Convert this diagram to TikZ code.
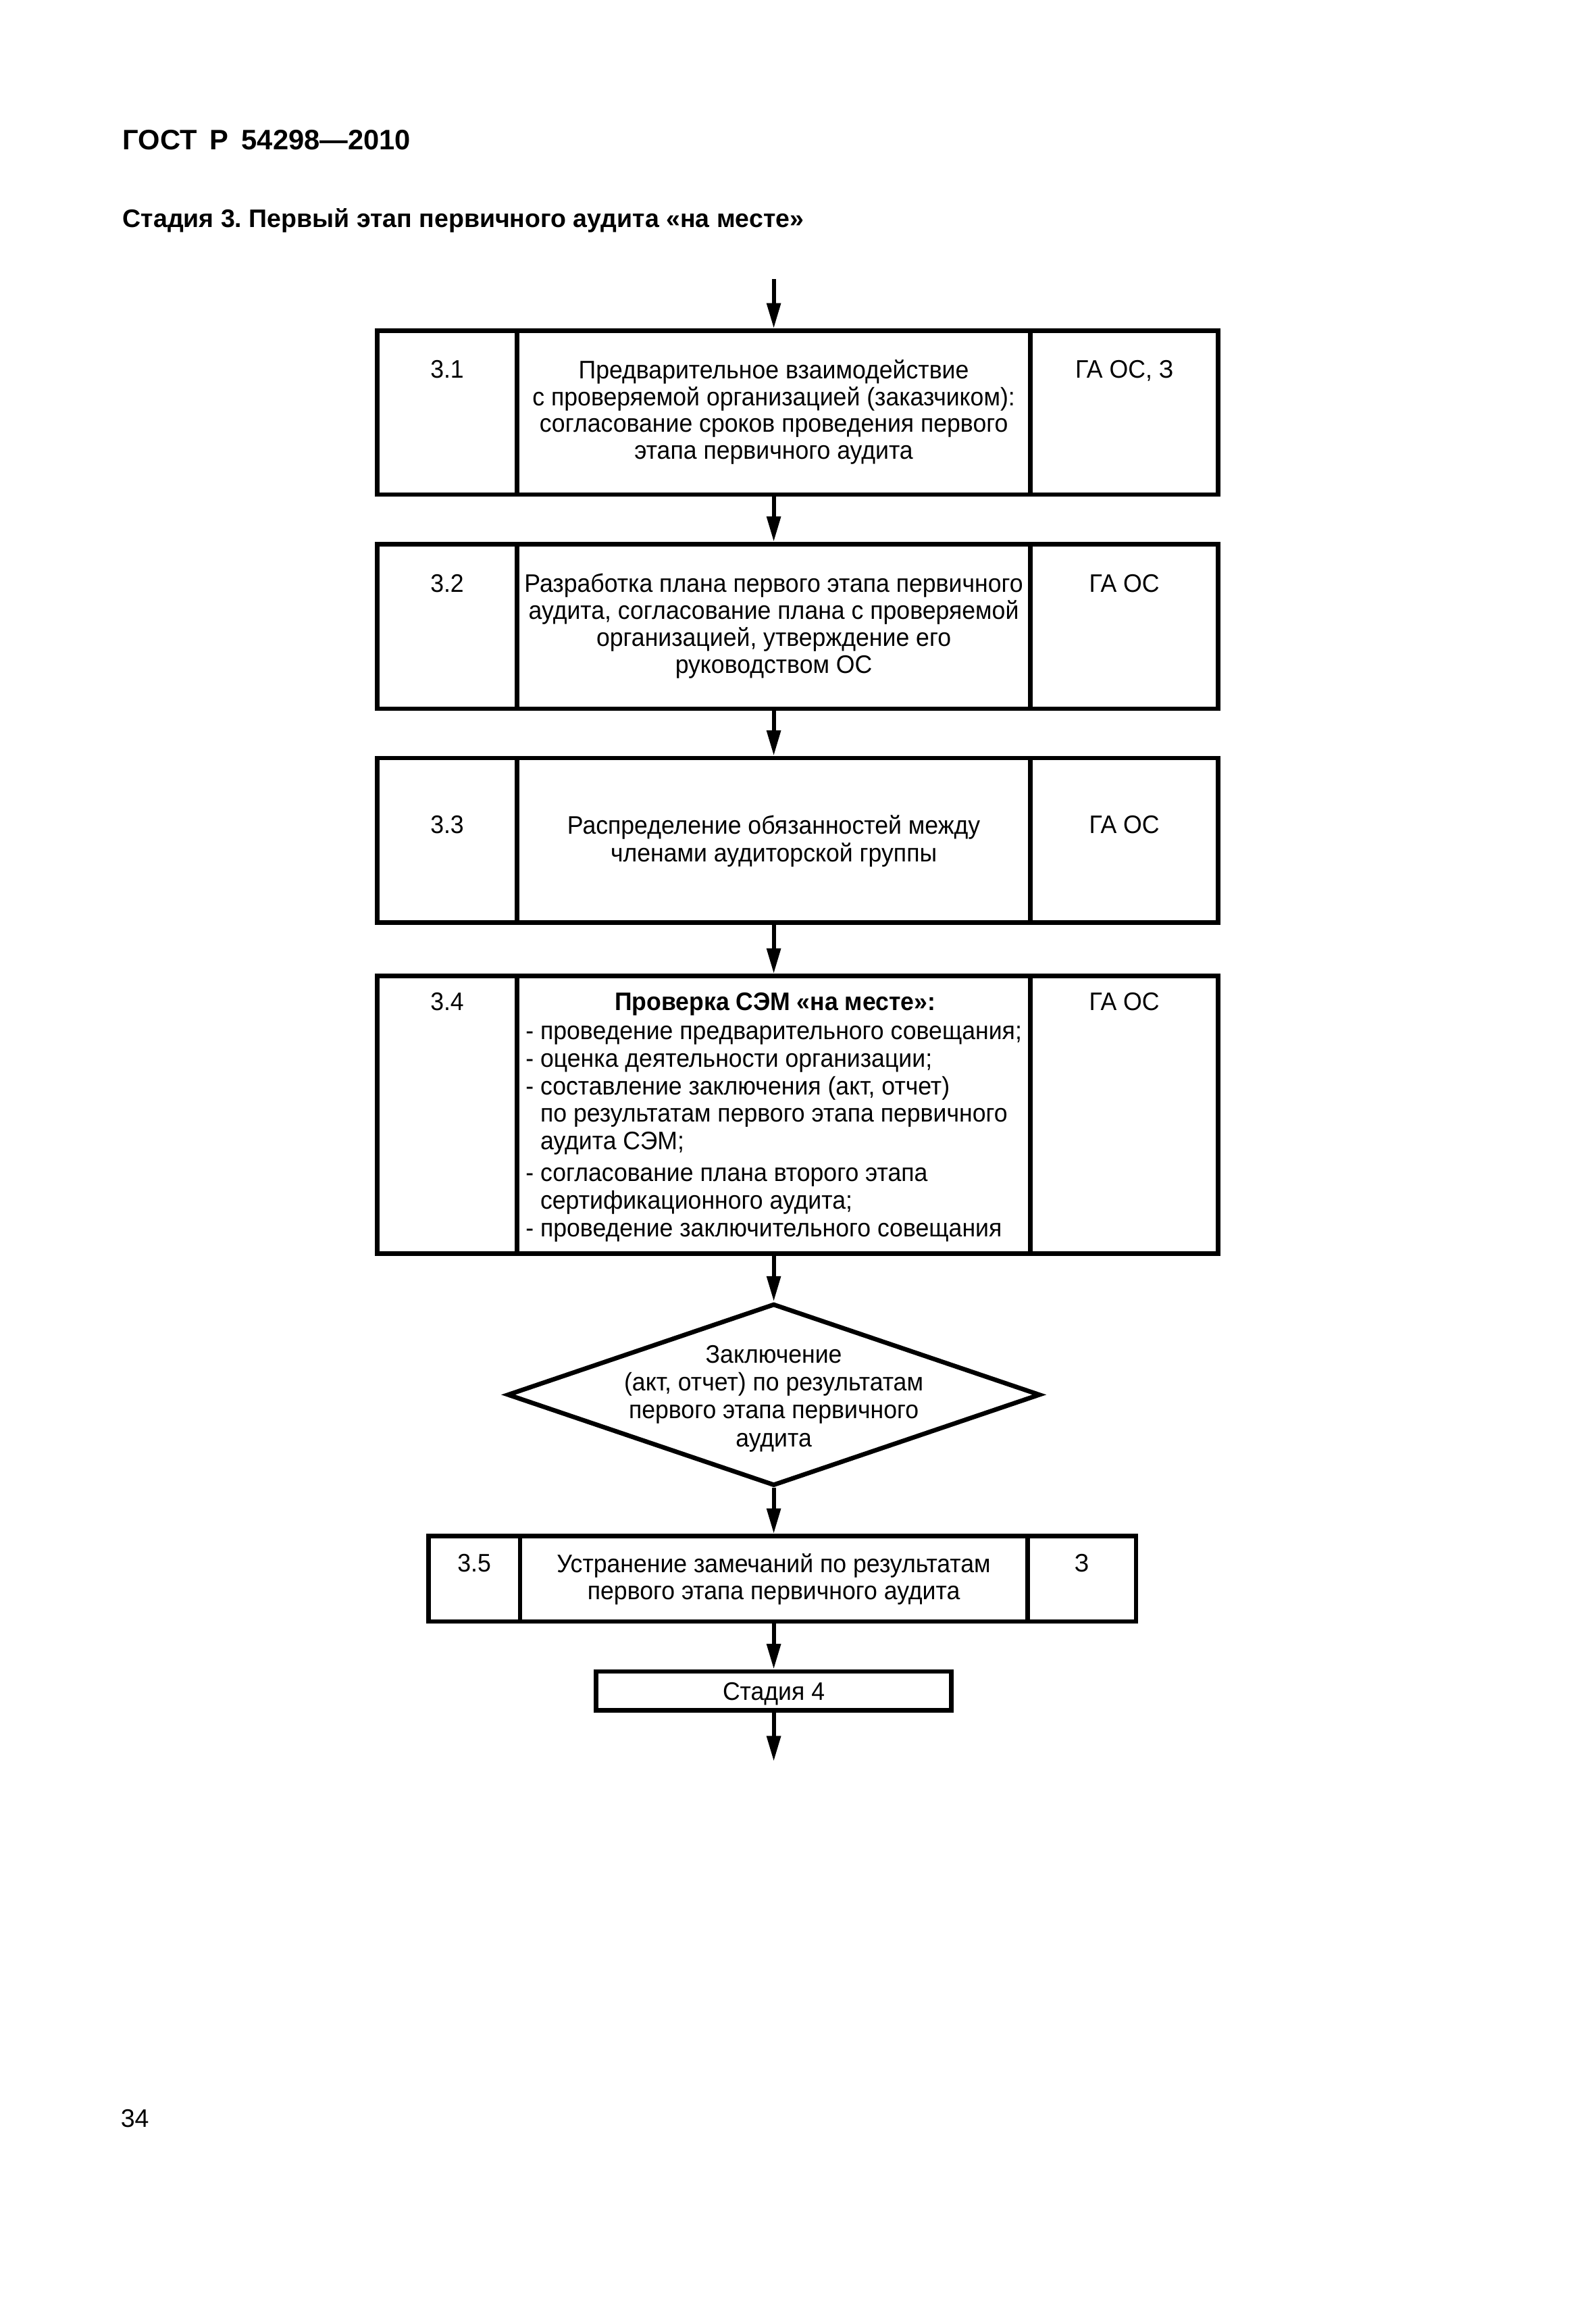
\documentclass[tikz,border=0pt]{standalone}
\usepackage{fontspec}
\setmainfont{Liberation Sans}
\newfontfamily\boxfont[FakeStretch=0.95]{Liberation Sans}
\usetikzlibrary{arrows.meta,shapes.geometric}
\newcommand{\tstrut}{\rule{0pt}{7pt}}
\frenchspacing
\begin{document}
\begin{tikzpicture}[x=0.52489pt,y=-0.52489pt,
  cellbox/.style 2 args={draw, line width=1.6pt, rectangle, inner sep=0pt,
     minimum width=#1*0.52489pt, minimum height=#2*0.52489pt},
  arr/.style={line width=1.4pt, -{Triangle[length=9pt,width=4.8pt]}},
  txt/.style={inner sep=0pt, align=center, font=\boxfont\fontsize{9}{9.6}\selectfont},
  lbl/.style={inner sep=0pt, anchor=base, font=\boxfont\fontsize{9}{9.6}\selectfont},
  head/.style={inner sep=0pt, anchor=base west}
]
\fill[white] (0,0) rectangle (1080,1566.04);
\useasboundingbox (0,0) rectangle (1080,1566.04);

% headings
\node[head, font=\bfseries\fontsize{10}{12}\selectfont] (hdr) at (82.7,101.4) {ГОСТ\hspace{4.6pt}Р\hspace{4.6pt}54298—2010};
\node[head, font=\bfseries\fontsize{9}{11}\selectfont] (sub) at (82.7,153.9) {Стадия 3. Первый этап первичного аудита «на месте»};
\node[head, font=\fontsize{9}{11}\selectfont] (pg) at (81.4,1439.4) {34};

% row 3.1
\node[cellbox={94.6}{110.9}] (n31) at (302.7,279.25) {};
\node[cellbox={347.6}{110.9}] (m31) at (523.8,279.25) {};
\node[cellbox={127.1}{110.9}] (r31) at (761.15,279.25) {};
\node[lbl] (tn31) at (302.7,256) {3.1};
\node[lbl] (tr31) at (761.15,256) {ГА ОС, З};
\node[txt, anchor=north, font=\boxfont\fontsize{9}{9.5}\selectfont] (tm31) at (523.8,242.66)
  {\tstrut Предварительное взаимодействие\\с проверяемой организацией (заказчиком):\\согласование сроков проведения первого\\этапа первичного аудита};

% row 3.2
\node[cellbox={94.6}{111.4}] (n32) at (302.7,423.9) {};
\node[cellbox={347.6}{111.4}] (m32) at (523.8,423.9) {};
\node[cellbox={127.1}{111.4}] (r32) at (761.15,423.9) {};
\node[lbl] (tn32) at (302.7,400.6) {3.2};
\node[lbl] (tr32) at (761.15,400.6) {ГА ОС};
\node[txt, anchor=north] (tm32) at (523.8,387.26)
  {\tstrut Разработка плана первого этапа первичного\\аудита, согласование плана с проверяемой\\организацией, утверждение его\\руководством ОС};

% row 3.3
\node[cellbox={94.6}{111.4}] (n33) at (302.7,568.7) {};
\node[cellbox={347.6}{111.4}] (m33) at (523.8,568.7) {};
\node[cellbox={127.1}{111.4}] (r33) at (761.15,568.7) {};
\node[lbl] (tn33) at (302.7,564) {3.3};
\node[lbl] (tr33) at (761.15,564) {ГА ОС};
\node[txt, anchor=north, font=\boxfont\fontsize{9}{9.8}\selectfont] (tm33) at (523.8,550.66)
  {\tstrut Распределение обязанностей между\\членами аудиторской группы};

% row 3.4
\node[cellbox={94.6}{188}] (n34) at (302.7,754.5) {};
\node[cellbox={347.6}{188}] (m34) at (523.8,754.5) {};
\node[cellbox={127.1}{188}] (r34) at (761.15,754.5) {};
\node[lbl] (tn34) at (302.7,684) {3.4};
\node[lbl] (tr34) at (761.15,684) {ГА ОС};
\node[lbl, font=\boxfont\bfseries\fontsize{9}{9.6}\selectfont] (th34) at (524.8,684) {Проверка СЭМ «на месте»:};
\node[txt, align=left, anchor=north west, font=\boxfont\fontsize{9}{9.8}\selectfont] (tm34) at (355.5,689.66)
  {\tstrut - проведение предварительного совещания;\\
   - оценка деятельности организации;\\
   - составление заключения (акт, отчет)\\
   \hphantom{- }по результатам первого этапа первичного\\
   \hphantom{- }аудита СЭМ;\\[1.5pt]
   - согласование плана второго этапа\\
   \hphantom{- }сертификационного аудита;\\
   - проведение заключительного совещания};

% decision
\node[draw, line width=1.6pt, diamond, inner sep=0pt,
      minimum width=360.8*0.52489pt, minimum height=123.2*0.52489pt] (dia) at (523.8,943.9) {};
\node[txt, anchor=north, font=\boxfont\fontsize{9}{9.9}\selectfont] (tdia) at (523.8,908.66)
  {\tstrut Заключение\\(акт, отчет) по результатам\\первого этапа первичного\\аудита};

% row 3.5
\node[cellbox={62}{57.8}] (n35) at (321,1068.4) {};
\node[cellbox={343.6}{57.8}] (m35) at (523.8,1068.4) {};
\node[cellbox={73.4}{57.8}] (r35) at (732.3,1068.4) {};
\node[lbl] (tn35) at (321,1063.8) {3.5};
\node[lbl] (tr35) at (732.3,1063.8) {З};
\node[txt, anchor=north, font=\boxfont\fontsize{9}{9.5}\selectfont] (tm35) at (523.8,1050.46)
  {\tstrut Устранение замечаний по результатам\\первого этапа первичного аудита};

% stage 4
\node[cellbox={240.4}{26.4}] (st4) at (523.8,1144.4) {};
\node[lbl] (tst4) at (523.8,1150.8) {Стадия 4};

% connectors
\coordinate (start) at (523.8,189);
\coordinate (finish) at (523.8,1192);
\draw[arr] (start) -- (m31.north);
\draw[arr] (m31.south) -- (m32.north);
\draw[arr] (m32.south) -- (m33.north);
\draw[arr] (m33.south) -- (m34.north);
\draw[arr] (m34.south) -- (dia.north);
\draw[arr] (dia.south) -- (m35.north);
\draw[arr] (m35.south) -- (st4.north);
\draw[arr] (st4.south) -- (finish);
\end{tikzpicture}
\end{document}
